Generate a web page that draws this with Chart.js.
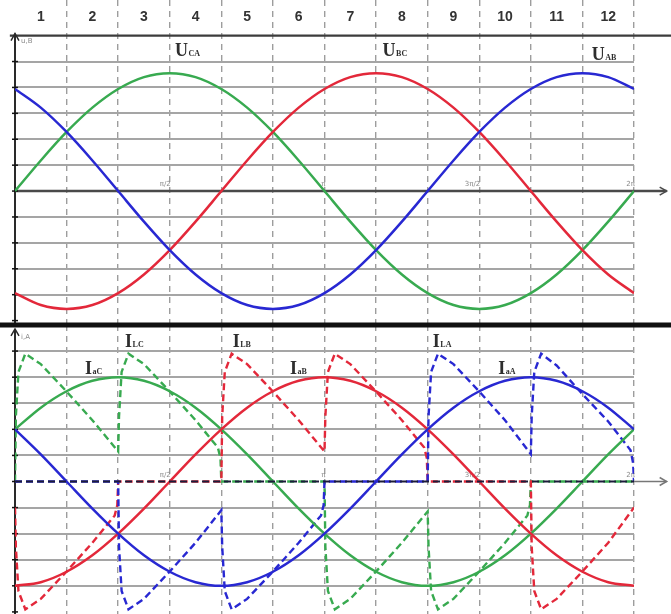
<!DOCTYPE html>
<html>
<head>
<meta charset="utf-8">
<script src="https://cdn.jsdelivr.net/npm/chart.js@4.4.0/dist/chart.umd.min.js"></script>
<style>
  html, body { margin: 0; padding: 0; background: #fff; }
  #wrap { position: relative; width: 671px; height: 614px; overflow: hidden; }
  .box { position: absolute; left: 0; width: 671px; }
  #topBox { top: 0; height: 325px; }
  #botBox { top: 325px; height: 289px; }
</style>
</head>
<body>
<div id="wrap">
  <div class="box" id="topBox"><canvas id="topChart"></canvas></div>
  <div class="box" id="botBox"><canvas id="botChart"></canvas></div>
</div>
<script>
// Three-phase voltages / currents, one column = 30 degrees

const angles = [0, 15, 30, 45, 60, 75, 90, 105, 120, 135, 150, 165, 180,
                195, 210, 225, 240, 255, 270, 285, 300, 315, 330, 345, 360];
const columnLabels = ['1', '2', '3', '4', '5', '6', '7', '8', '9', '10', '11', '12'];
const piLabels = ['π/2', 'π', '3π/2', '2π'];
const piAngles = [90, 180, 270, 360];

// line voltages (top panel)
const uAB = [3.94, 3.22, 2.28, 1.18, 0, -1.18, -2.28, -3.22, -3.94, -4.4, -4.55, -4.4, -3.94,
             -3.22, -2.28, -1.18, 0, 1.18, 2.28, 3.22, 3.94, 4.4, 4.55, 4.4, 3.94];
const uBC = [-3.94, -4.4, -4.55, -4.4, -3.94, -3.22, -2.28, -1.18, 0, 1.18, 2.28, 3.22, 3.94,
             4.4, 4.55, 4.4, 3.94, 3.22, 2.28, 1.18, 0, -1.18, -2.28, -3.22, -3.94];
const uCA = [0, 1.18, 2.28, 3.22, 3.94, 4.4, 4.55, 4.4, 3.94, 3.22, 2.28, 1.18, 0,
             -1.18, -2.28, -3.22, -3.94, -4.4, -4.55, -4.4, -3.94, -3.22, -2.28, -1.18, 0];

// source currents (bottom panel, solid)
const iaA = [2, 1.04, 0, -1.04, -2, -2.83, -3.46, -3.86, -4, -3.86, -3.46, -2.83, -2,
             -1.04, 0, 1.04, 2, 2.83, 3.46, 3.86, 4, 3.86, 3.46, 2.83, 2];
const iaB = [-4, -3.86, -3.46, -2.83, -2, -1.04, 0, 1.04, 2, 2.83, 3.46, 3.86, 4,
             3.86, 3.46, 2.83, 2, 1.04, 0, -1.04, -2, -2.83, -3.46, -3.86, -4];
const iaC = [2, 2.83, 3.46, 3.86, 4, 3.86, 3.46, 2.83, 2, 1.04, 0, -1.04, -2,
             -2.83, -3.46, -3.86, -4, -3.86, -3.46, -2.83, -2, -1.04, 0, 1.04, 2];

// load currents (bottom panel, dashed) as [angle, value]
const iLA = [[0, 0], [60, 0], [60.5, -2.5], [62, -4.2], [66, -4.9], [75, -4.5], [90, -3.45], [105, -2.35],
             [120, -1.1], [120.5, -2.5], [122, -4.2], [126, -4.9], [135, -4.5], [150, -3.45], [165, -2.35],
             [178, -1.3], [179.5, -0.9], [180, 0], [240, 0], [240.5, 2.5], [242, 4.2], [246, 4.9], [255, 4.5],
             [270, 3.45], [285, 2.35], [300, 1.05], [300.5, 2.5], [302, 4.2], [306, 4.9], [315, 4.45],
             [330, 3.35], [345, 2.3], [358, 1.2], [359.5, 0.7], [360, 0]];
const iLB = [[0, -1], [0.5, -2.5], [2, -4.2], [6, -4.9], [15, -4.5], [30, -3.45], [45, -2.35], [58, -1.3],
             [59.5, -0.9], [60, 0], [120, 0], [120.5, 2.5], [122, 4.2], [126, 4.9], [135, 4.5], [150, 3.45],
             [165, 2.35], [180, 1.15], [180.5, 2.5], [182, 4.2], [186, 4.9], [195, 4.5], [210, 3.45],
             [225, 2.35], [238, 1.3], [239.5, 0.9], [240, 0], [300, 0], [300.5, -2.5], [302, -4.2],
             [306, -4.9], [315, -4.5], [330, -3.45], [345, -2.35], [360, -1.0]];
const iLC = [[0, 0], [0.5, 2.5], [2, 4.2], [6, 4.9], [15, 4.5], [30, 3.45], [45, 2.35], [60, 1.15],
             [60.5, 2.5], [62, 4.2], [66, 4.9], [75, 4.5], [90, 3.45], [105, 2.35], [118, 1.3], [119.5, 0.9],
             [120, 0], [180, 0], [180.5, -2.5], [182, -4.2], [186, -4.9], [195, -4.5], [210, -3.45],
             [225, -2.35], [240, -1.15], [240.5, -2.5], [242, -4.2], [246, -4.9], [255, -4.5], [270, -3.45],
             [285, -2.35], [298, -1.3], [299.5, -0.9], [300, 0], [360, 0]];

// curve labels
const topLabels = [['U', 'CA'], ['U', 'BC'], ['U', 'AB']];
const botLabels = [['I', 'LC'], ['I', 'aC'], ['I', 'LB'], ['I', 'aB'], ['I', 'LA'], ['I', 'aA']];

const BLUE = '#2828d2', RED = '#e3283a', GREEN = '#38aa50';
const GRID = '#a5a5a5';
const INK = '#333333';

function series(xs, ys) {
    return xs.map((x, i) => ({ x: x, y: ys[i] }));
}
function points(list) {
    return list.map(p => ({ x: p[0], y: p[1] }));
}
function solid(data, color) {
    return { data: data, borderColor: color, borderWidth: 2.5, pointRadius: 0,
             cubicInterpolationMode: 'monotone', fill: false, order: 1 };
}
function dashed(data, color) {
    return { data: data, borderColor: color, borderWidth: 2.4, borderDash: [7, 4],
             pointRadius: 0, tension: 0, fill: false, order: 2 };
}

function panelScales(yMin, yMax) {
    return {
        x: {
            type: 'linear', min: 0, max: 360,
            ticks: { display: false, stepSize: 30 },
            grid: { color: c => c.tick.value === 0 ? 'rgba(0,0,0,0)' : '#9d9d9d', lineWidth: 1.4, drawTicks: false },
            border: { display: false, dash: [6, 5] },
            afterFit: s => { s.height = 0; }
        },
        y: {
            type: 'linear', min: yMin, max: yMax,
            ticks: { display: false, stepSize: 1 },
            grid: {
                color: c => {
                    const v = c.tick.value;
                    return (Number.isInteger(v) && v !== 0 && v >= -5 && v <= 5) ? GRID : 'rgba(0,0,0,0)';
                },
                lineWidth: 2, drawTicks: false
            },
            border: { display: false },
            afterFit: s => { s.width = 0; }
        }
    };
}

function strokeLine(ctx, x1, y1, x2, y2, color, width, dash) {
    ctx.save();
    ctx.strokeStyle = color;
    ctx.lineWidth = width;
    ctx.setLineDash(dash || []);
    ctx.beginPath();
    ctx.moveTo(x1, y1);
    ctx.lineTo(x2, y2);
    ctx.stroke();
    ctx.restore();
}

function arrowHead(ctx, tx, ty, dir, color) {
    ctx.save();
    ctx.strokeStyle = color;
    ctx.lineWidth = 1.5;
    ctx.beginPath();
    if (dir === 'right') {
        ctx.moveTo(tx - 7, ty - 4); ctx.lineTo(tx, ty); ctx.lineTo(tx - 7, ty + 4);
    } else {
        ctx.moveTo(tx - 4, ty + 7); ctx.lineTo(tx, ty); ctx.lineTo(tx + 4, ty + 7);
    }
    ctx.stroke();
    ctx.restore();
}

function drawYAxis(chart, topValue, name) {
    const { ctx, scales: { x, y } } = chart;
    const px = x.getPixelForValue(0);
    const top = y.getPixelForValue(topValue);
    strokeLine(ctx, px, chart.height, px, top, '#2a2a2a', 2);
    arrowHead(ctx, px, top, 'up', '#2a2a2a');
    for (let v = -5; v <= 5; v++) {
        const py = y.getPixelForValue(v);
        strokeLine(ctx, px - 3, py, px + 3, py, '#111', 1.5);
    }
    ctx.save();
    ctx.font = '7px "DejaVu Sans"';
    ctx.fillStyle = '#888';
    ctx.textBaseline = 'middle';
    ctx.fillText(name, px + 6, top + 8);
    ctx.restore();
}

function drawPiLabels(chart) {
    const { ctx, scales: { x, y } } = chart;
    ctx.save();
    ctx.font = '7px "DejaVu Sans"';
    ctx.fillStyle = '#8a8a8a';
    ctx.textAlign = 'right';
    ctx.textBaseline = 'bottom';
    piLabels.forEach((t, i) => {
        ctx.fillText(t, x.getPixelForValue(piAngles[i]) + 1, y.getPixelForValue(0) - 3);
    });
    ctx.restore();
}

function drawSubLabel(ctx, px, py, main, sub) {
    ctx.save();
    ctx.fillStyle = '#2e2e2e';
    ctx.textBaseline = 'alphabetic';
    ctx.font = 'bold 18px "Liberation Serif"';
    ctx.fillText(main, px, py);
    const w = ctx.measureText(main).width;
    ctx.font = 'bold 8px "Liberation Serif"';
    ctx.fillText(sub, px + w + 0.5, py);
    ctx.restore();
}

// label anchors in data units (angle, level)
const topAnchors = [[93, 5.21], [213.8, 5.21], [335.4, 5.06]];
const botAnchors = [[64, 5.14], [40.7, 4.13], [126.6, 5.15], [160, 4.14], [243, 5.15], [281, 4.14]];

const topDecor = {
    id: 'topDecor',
    beforeDatasetsDraw(chart) {
        const { ctx, scales: { x, y } } = chart;
        // header rule
        const yTop = y.getPixelForValue(6);
        strokeLine(ctx, x.getPixelForValue(-3), yTop, chart.width, yTop, '#3c3c3c', 2.2);
        // x axis
        const y0 = y.getPixelForValue(0);
        const xEnd = x.getPixelForValue(379);
        strokeLine(ctx, x.getPixelForValue(0), y0, xEnd, y0, '#4a4a4a', 2.6);
        arrowHead(ctx, xEnd, y0, 'right', '#4a4a4a');
        drawYAxis(chart, 6.08, 'u,B');
        drawPiLabels(chart);
    },
    afterDraw(chart) {
        const { ctx, scales: { x, y } } = chart;
        // column numbers
        ctx.save();
        ctx.font = 'bold 14px "Liberation Sans"';
        ctx.fillStyle = INK;
        ctx.textAlign = 'center';
        ctx.textBaseline = 'middle';
        columnLabels.forEach((t, i) => {
            ctx.fillText(t, x.getPixelForValue(15 + 30 * i), y.getPixelForValue(6.72));
        });
        ctx.restore();
        topLabels.forEach((l, i) => {
            drawSubLabel(ctx, x.getPixelForValue(topAnchors[i][0]), y.getPixelForValue(topAnchors[i][1]), l[0], l[1]);
        });
        // panel separator
        ctx.save();
        ctx.fillStyle = '#111';
        ctx.fillRect(0, chart.height - 2.5, chart.width, 2.5);
        ctx.restore();
    }
};

const botDecor = {
    id: 'botDecor',
    beforeDatasetsDraw(chart) {
        const { ctx, scales: { x, y } } = chart;
        const y0 = y.getPixelForValue(0);
        const xEnd = x.getPixelForValue(379);
        strokeLine(ctx, x.getPixelForValue(360), y0, xEnd, y0, '#777', 1.6);
        arrowHead(ctx, xEnd, y0, 'right', '#777');
        drawYAxis(chart, 5.85, 'i,A');
        drawPiLabels(chart);
    },
    afterDatasetsDraw(chart) {
        const { ctx, scales: { x, y } } = chart;
        const y0 = y.getPixelForValue(0);
        strokeLine(ctx, x.getPixelForValue(0), y0, x.getPixelForValue(360), y0, '#1c1c3a', 2.2, [7, 4]);
    },
    afterDraw(chart) {
        const { ctx, scales: { x, y } } = chart;
        botLabels.forEach((l, i) => {
            drawSubLabel(ctx, x.getPixelForValue(botAnchors[i][0]), y.getPixelForValue(botAnchors[i][1]), l[0], l[1]);
        });
        ctx.save();
        ctx.fillStyle = '#111';
        ctx.fillRect(0, 0, chart.width, 2.5);
        ctx.restore();
    }
};

const baseOptions = {
    responsive: true,
    maintainAspectRatio: false,
    animation: false,
    devicePixelRatio: 1,
    layout: { padding: { left: 15, right: 37, top: 0, bottom: 0 } },
    plugins: { legend: { display: false }, tooltip: { enabled: false } }
};

new Chart(document.getElementById('topChart'), {
    type: 'line',
    data: {
        datasets: [
            solid(series(angles, uAB), BLUE),
            solid(series(angles, uBC), RED),
            solid(series(angles, uCA), GREEN)
        ]
    },
    options: Object.assign({}, baseOptions, { scales: panelScales(-5.17, 7.375) }),
    plugins: [topDecor]
});

new Chart(document.getElementById('botChart'), {
    type: 'line',
    data: {
        datasets: [
            dashed(points(iLA), BLUE),
            dashed(points(iLB), RED),
            dashed(points(iLC), GREEN),
            solid(series(angles, iaA), BLUE),
            solid(series(angles, iaB), RED),
            solid(series(angles, iaC), GREEN)
        ]
    },
    options: Object.assign({}, baseOptions, { scales: panelScales(-5.08, 6.0) }),
    plugins: [botDecor]
});
</script>
</body>
</html>
